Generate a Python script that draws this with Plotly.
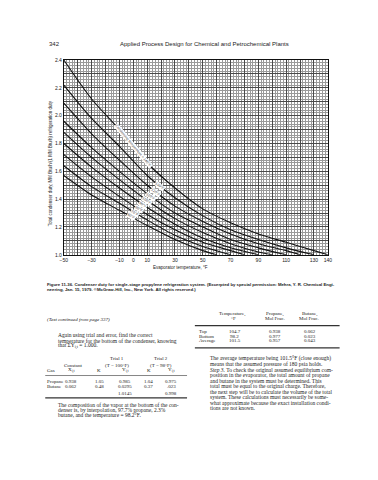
import plotly.graph_objects as go
import numpy as np

# page is drawn inside a body with an 8px default margin
OFF = 8
W, H = 378 - 2 * OFF, 480 - 2 * OFF

# ---------------- data ----------------
evap_t = [-50, -30, -10, 10, 30, 50, 70, 90, 110, 130]
cond_temps = [140, 130, 120, 110, 100, 90, 80, 70, 60]
duty_140 = [2.40, 2.12, 1.90, 1.66, 1.48, 1.33, 1.23, 1.15, 1.09, 1.03, 1.00]
duty_130 = [2.22, 1.98, 1.78, 1.57, 1.41, 1.28, 1.18, 1.11, 1.05, 1.00]
duty_120 = [2.09, 1.87, 1.68, 1.50, 1.35, 1.24, 1.15, 1.08, 1.03, 1.00]
duty_110 = [1.96, 1.77, 1.60, 1.44, 1.30, 1.20, 1.11, 1.05, 1.00]
duty_100 = [1.88, 1.70, 1.54, 1.39, 1.26, 1.16, 1.08, 1.02, 1.00]
duty_90 = [1.80, 1.63, 1.48, 1.34, 1.22, 1.12, 1.05, 1.00]
duty_80 = [1.72, 1.56, 1.42, 1.29, 1.18, 1.09, 1.03, 1.00]
duty_70 = [1.64, 1.49, 1.37, 1.25, 1.14, 1.06, 1.00]
duty_60 = [1.57, 1.43, 1.32, 1.21, 1.11, 1.03, 1.00]
duties = [duty_140, duty_130, duty_120, duty_110, duty_100, duty_90, duty_80, duty_70, duty_60]
label_texts = ["Condensing temperature = 140°F", "130°F", "120°F", "110°F", "100°F",
               "90°F", "80°F", "70°F", "60°F"]
label_x = [0, 19, 16, 13, 10, 7, 4, 1, -2]

x_tickvals = list(range(-50, 141, 10))
x_ticktext = ["−50", "", "−30", "", "−10", "0", "10", "", "30", "", "50", "", "70", "",
              "90", "", "110", "", "130", "140"]
y_tickvals = [round(1.0 + 0.1 * i, 1) for i in range(15)]
y_ticktext = ["1.0", "", "1.2", "", "1.4", "", "1.6", "", "1.8", "", "2.0", "", "2.2", "", "2.4"]

# tables
t1_gas = ["Propane", "Butane", ""]
t1_x = ["0.938", "0.062", ""]
t1_k1 = ["1.05", "0.48", ""]
t1_y1 = ["0.985", "0.0295", "1.0145"]
t1_k2 = ["1.04", "0.37", ""]
t1_y2 = ["0.975", ".023", "0.998"]
t2_rows = ["Top", "Bottom", "Average"]
t2_temp = ["104.7", "98.2", "101.5"]
t2_prop = ["0.938", "0.977", "0.957"]
t2_but = ["0.062", "0.023", "0.043"]

# ---------------- layout geometry (page pixels) ----------------
px_l, px_r, px_t, px_b = 61, 331, 57.7, 255
SANS = "Liberation Sans, Arial, sans-serif"
SERIF = "Liberation Serif, DejaVu Serif, serif"


def fx(px):
    return (px - OFF) / W


def fy(py):
    return 1 - (py - OFF) / H


fig = go.Figure()
for tc, dy in zip(cond_temps, duties):
    xs = [v for v in evap_t if v < tc] + [tc]
    fig.add_trace(go.Scatter(x=xs, y=dy, mode="lines",
                             line=dict(color="#111", width=1.1, shape="spline", smoothing=0.8),
                             hoverinfo="skip", showlegend=False))

# curve labels placed on curves
xscale = (px_r - px_l) / 190.0
yscale = (px_b - px_t) / 1.4
for i, (tc, dy, lx, txt) in enumerate(zip(cond_temps, duties, label_x, label_texts)):
    xs = [v for v in evap_t if v < tc] + [tc]
    ly = float(np.interp(lx, xs, dy))
    slope = (np.interp(lx + 3, xs, dy) - np.interp(lx - 3, xs, dy)) / 6.0
    ang = np.degrees(np.arctan(-slope * yscale / xscale))
    fig.add_annotation(x=lx, y=ly, text=txt, showarrow=False, textangle=ang,
                       font=dict(family=SANS, size=3.6, color="#444"),
                       bgcolor="white", borderpad=0)

fig.update_xaxes(domain=[fx(px_l), fx(px_r)], range=[-50, 140],
                 tickmode="array", tickvals=x_tickvals, ticktext=x_ticktext,
                 showgrid=True, gridcolor="#4a4a4a", gridwidth=0.8,
                 minor=dict(dtick=2, tick0=-50, showgrid=True, gridcolor="#9a9a9a", gridwidth=0.5),
                 showline=True, linecolor="#111", linewidth=1, mirror=True,
                 ticks="", zeroline=False,
                 tickfont=dict(family=SANS, size=5, color="#222"))
fig.update_yaxes(domain=[fy(px_b), fy(px_t)], range=[1.0, 2.4],
                 tickmode="array", tickvals=y_tickvals, ticktext=y_ticktext,
                 showgrid=True, gridcolor="#4a4a4a", gridwidth=0.8,
                 minor=dict(dtick=0.02, tick0=1.0, showgrid=True, gridcolor="#9a9a9a", gridwidth=0.5),
                 showline=True, linecolor="#111", linewidth=1, mirror=True,
                 ticks="", zeroline=False,
                 tickfont=dict(family=SANS, size=5, color="#222"))


def text(xp, yp, s, size=5.5, family=SERIF, anchor="left", angle=0, color="#222"):
    fig.add_annotation(xref="paper", yref="paper", x=fx(xp), y=fy(yp), text=s,
                       showarrow=False, xanchor=anchor, yanchor="middle", textangle=angle,
                       font=dict(family=family, size=size, color=color))


# header
text(44, 41, "342", size=6, family=SANS)
text(116, 41, "Applied Process Design for Chemical and Petrochemical Plants", size=6, family=SANS)

# axis titles
text(47, 162, "Total condenser duty, MM Btu/h/(1 MM Btu/h) refrigeration duty",
     size=4.5, family=SANS, anchor="center", angle=-90)
text(180, 268, "Evaporator temperature, °F", size=4.5, family=SANS, anchor="center")

# caption
text(42, 285, "<b>Figure 11-36. Condenser duty for single-stage propylene refrigeration system. "
              "(Excerpted by special permission: Mehra, Y. R. Chemical Engi-</b>", size=4.3, family=SANS)
text(42, 290, "<b>neering, Jan. 15, 1979. ©McGraw-Hill, Inc., New York. All rights reserved.)</b>",
     size=4.3, family=SANS)

# left column
text(42, 321, "<i>(Text continued from page 337)</i>", size=5)
para1 = ["Again using trial and error, find the correct",
         "temperature for the bottom of the condenser, knowing",
         "that ΣY<sub>i,t</sub> = 1.000."]
for i, s in enumerate(para1):
    text(53, 336.7 + 5.4 * i, s, size=5.5)

text(115, 360, "Trial 1", size=5, anchor="center")
text(160, 360, "Trial 2", size=5, anchor="center")
text(70, 366.7, "Constant", size=5, anchor="center")
text(115, 366.7, "(T = 100°F)", size=5, anchor="center")
text(160, 366.7, "(T = 98°F)", size=5, anchor="center")
hdr = [("Gas", 42, "left"), ("X<sub>i,t</sub>", 68, "center"), ("K", 97, "center"),
       ("Y<sub>i,t</sub>", 124, "center"), ("K", 148, "center"), ("Y<sub>i,t</sub>", 171, "center")]
for s, xp, an in hdr:
    text(xp, 372.5, s, size=5, anchor=an)
cols = [(t1_gas, 42, "left"), (t1_x, 68, "center"), (t1_k1, 97, "center"),
        (t1_y1, 124, "center"), (t1_k2, 148, "center"), (t1_y2, 171, "center")]
row_y = [383.3, 388.6, 395.5]
for vals, xp, an in cols:
    for v, yp in zip(vals, row_y):
        if v:
            text(xp, yp, v, size=5, anchor=an)

para2 = ["The composition of the vapor at the bottom of the con-",
         "denser is, by interpolation, 97.7% propane, 2.3%",
         "butane, and the temperature = 98.2°F."]
for i, s in enumerate(para2):
    text(53, 406.7 + 5.5 * i, s, size=5.5)

# right column table
text(233, 315, "Temperature,", size=5, anchor="center")
text(235, 320, "°F", size=5, anchor="center")
text(277, 315, "Propane,", size=5, anchor="center")
text(277, 320, "Mol Frac.", size=5, anchor="center")
text(312, 315, "Butane,", size=5, anchor="center")
text(312, 320, "Mol Frac.", size=5, anchor="center")
for i in range(3):
    yp = 332.7 + 4.8 * i
    text(197, yp, t2_rows[i], size=5)
    text(236, yp, t2_temp[i], size=5, anchor="center")
    text(277, yp, t2_prop[i], size=5, anchor="center")
    text(313, yp, t2_but[i], size=5, anchor="center")

para3 = ["The average temperature being 101.5°F (close enough)",
         "means that the assumed pressure of 180 psia holds.",
         "<i>Step 3.</i> To check the original assumed equilibrium com-",
         "position in the evaporator, the total amount of propane",
         "and butane in the system must be determined. This",
         "total must be equal to the original charge. Therefore,",
         "the next step will be to calculate the volume of the total",
         "system. These calculations must necessarily be some-",
         "what approximate because the exact installation condi-",
         "tions are not known."]
for i, s in enumerate(para3):
    text(208, 360 + 5.6 * i, s, size=5.5)

# table rules
rules = [(42, 187, 377.3, 0.6), (42, 187, 400, 1.2), (195, 343, 326.7, 1.2), (195, 343, 349.3, 1.2)]
for x0, x1, yp, w in rules:
    fig.add_shape(type="line", xref="paper", yref="paper", x0=fx(x0), x1=fx(x1),
                  y0=fy(yp), y1=fy(yp), line=dict(color="#333", width=w))

fig.update_layout(width=W, height=H, margin=dict(l=0, r=0, t=0, b=0),
                  paper_bgcolor="white", plot_bgcolor="white", showlegend=False)
fig.write_html("out.html")
